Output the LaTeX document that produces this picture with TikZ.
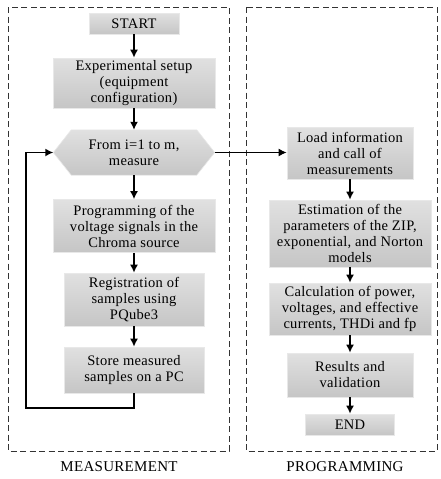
\documentclass[tikz,border=0pt]{standalone}
\usepackage{fontspec}
\setmainfont[LetterSpace=2]{Liberation Serif}
\usetikzlibrary{arrows.meta,shadows}
\begin{document}
\begin{tikzpicture}[x=1pt,y=-1pt,
  font=\fontsize{14.5}{16}\selectfont,
  boxstyle/.style={rectangle, inner sep=0pt, align=center, top color=gray!24, bottom color=gray!45,
    draw=gray!18, line width=0.6pt, drop shadow={shadow xshift=0.8pt,shadow yshift=-0.8pt,fill=gray!30,opacity=0.6}},
  hexfill/.style={top color=gray!24, bottom color=gray!45, draw=gray!18, line width=0.6pt},
  frame/.style={draw=black!80, dashed, dash pattern=on 6pt off 3.5pt, line width=0.7pt},
  arr/.style={-{Latex[length=8pt,width=8pt]}, line width=1.5pt},
  lab/.style={font=\fontsize{15}{16}\selectfont}]
\useasboundingbox (0,0) rectangle (441,479);
\fill[white] (0,0) rectangle (441,479);
% frames
\draw[frame] (8,7) rectangle (229,451);
\draw[frame] (246,7) rectangle (437,451);
\node[lab] (m) at (119,467) {MEASUREMENT};
\node[lab] (p) at (345,467) {PROGRAMMING};
% left column
\node[boxstyle, minimum width=90pt, minimum height=21pt] (start) at (134,23.5) {START};
\node[boxstyle, minimum width=162pt, minimum height=50pt] (setup) at (134,83) {Experimental setup\\(equipment\\configuration)};
\node[rectangle, inner sep=0pt, minimum width=161pt, minimum height=45pt] (loop) at (134,152.5) {};
\path[hexfill] (loop.west) -- ([xshift=18pt]loop.north west) -- ([xshift=-18pt]loop.north east) -- (loop.east)
  -- ([xshift=-18pt]loop.south east) -- ([xshift=18pt]loop.south west) -- cycle;
\node[align=center, inner sep=0pt] (looptext) at (loop.center) {From i=1 to m,\\measure};
\node[boxstyle, minimum width=162pt, minimum height=53pt] (prog) at (134,226) {Programming of the\\voltage signals in the\\Chroma source};
\node[boxstyle, minimum width=140pt, minimum height=53pt] (reg) at (134,299.5) {Registration of\\samples using\\PQube3};
\node[boxstyle, minimum width=140pt, minimum height=46pt] (store) at (134,370) {Store measured\\samples on a PC};
% right column
\node[boxstyle, minimum width=126pt, minimum height=52pt] (load) at (350,153) {Load information\\and call of\\measurements};
\node[boxstyle, minimum width=162pt, minimum height=67pt] (est) at (350,233.5) {Estimation of the\\parameters of the ZIP,\\exponential, and Norton\\models};
\node[boxstyle, minimum width=162pt, minimum height=52pt] (calc) at (350,309) {Calculation of power,\\voltages, and effective\\currents, THDi and fp};
\node[boxstyle, minimum width=126pt, minimum height=44pt] (res) at (350,375) {Results and\\validation};
\node[boxstyle, minimum width=89pt, minimum height=21pt] (end) at (350,424.5) {END};
% arrows
\draw[arr] (start) -- (setup);
\draw[arr] (setup) -- (loop);
\draw[arr] (loop) -- (prog);
\draw[arr] (prog) -- (reg);
\draw[arr] (reg) -- (store);
\coordinate (c1) at (134,408);
\coordinate (c2) at (26,408);
\coordinate (c3) at (26,152.5);
\draw[arr] (store.south) -- (c1) -- (c2) -- (c3) -- (loop.west);
\draw[arr] (loop.east) -- (load.west |- loop.east);
\draw[arr] (load) -- (est);
\draw[arr] (est) -- (calc);
\draw[arr] (calc) -- (res);
\draw[arr] (res) -- (end);
\end{tikzpicture}
\end{document}
